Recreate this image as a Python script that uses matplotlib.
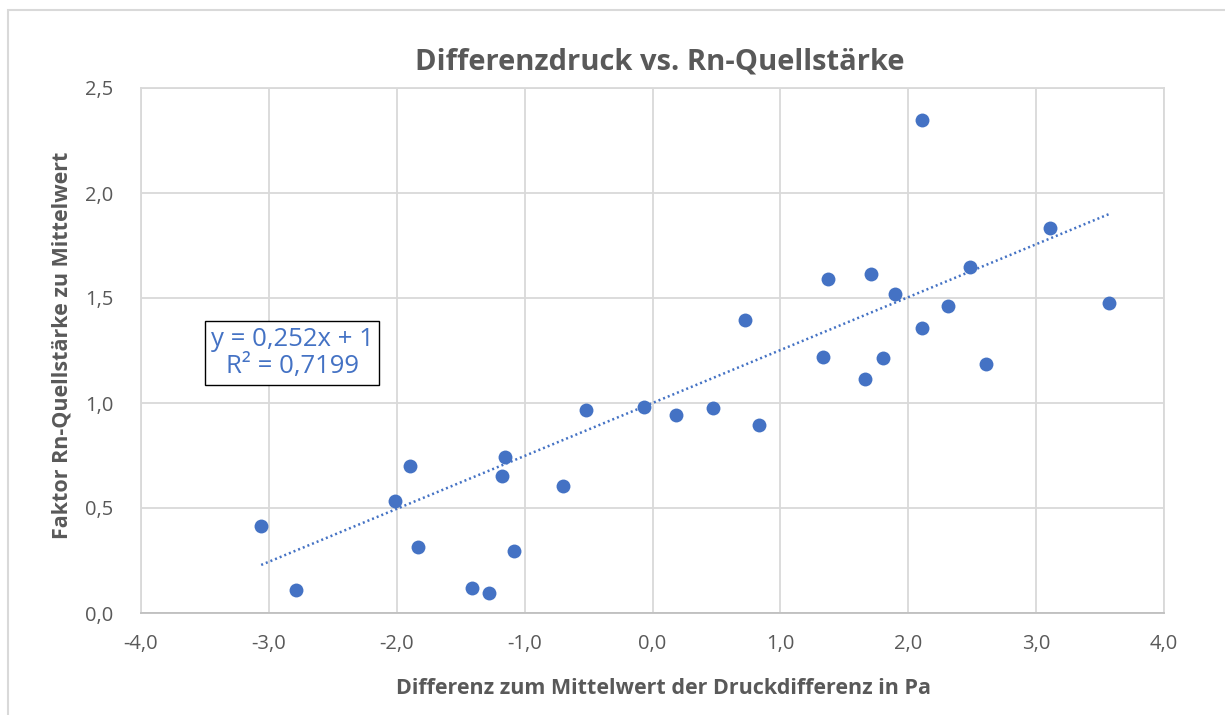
import matplotlib.pyplot as plt
import matplotlib.patches as mpatches
import numpy as np

plt.rcParams['font.family'] = ['Open Sans', 'DejaVu Sans']

# druck differenz (Pa) vs. faktor quellstaerke
dp = [-3.06, -2.79, -2.01, -1.90, -1.83, -1.41, -1.28, -1.18, -1.15, -1.08,
      -0.70, -0.52, -0.07, 0.18, 0.47, 0.72, 0.83, 1.33, 1.37, 1.66,
      1.71, 1.80, 1.90, 2.11, 2.11, 2.31, 2.48, 2.61, 3.11, 3.57]
faktor = [0.414, 0.11, 0.533, 0.70, 0.314, 0.119, 0.095, 0.652, 0.743, 0.295,
          0.605, 0.967, 0.981, 0.943, 0.976, 1.395, 0.895, 1.219, 1.59, 1.114,
          1.614, 1.214, 1.519, 2.348, 1.357, 1.462, 1.648, 1.186, 1.833, 1.476]
slope = 0.252
intercept = 1.0
r2 = "0,7199"

xticks = [-4, -3, -2, -1, 0, 1, 2, 3, 4]
yticks = [0, 0.5, 1.0, 1.5, 2.0, 2.5]

blue = '#4472C4'
grey = '#595959'
light = '#d9d9d9'

fig = plt.figure(figsize=(12.25, 7.15), dpi=100)
# chart area border (only top/left visible in the crop)
fig.patches.append(mpatches.Rectangle((8 / 1225, -0.1), 1.2, 1 - 10 / 715 + 0.1,
                                      transform=fig.transFigure, fill=False,
                                      edgecolor=light, linewidth=1.5))

ax = fig.add_axes([141 / 1225, 1 - 613 / 715, 1023 / 1225, 525 / 715])
ax.set_xlim(-4, 4)
ax.set_ylim(0, 2.5)
ax.set_xticks(xticks)
ax.set_yticks(yticks)
ax.set_xticklabels([f"{v:.1f}".replace('.', ',') for v in xticks])
ax.set_yticklabels([f"{v:.1f}".replace('.', ',') for v in yticks])
ax.tick_params(length=0, labelsize=14.5, labelcolor=grey)
ax.tick_params(axis='x', pad=15)
ax.tick_params(axis='y', pad=20)
ax.grid(True, color=light, linewidth=1.3)
ax.set_axisbelow(True)
for s in ax.spines.values():
    s.set_color(light)
    s.set_linewidth(1.3)
ax.spines['bottom'].set_color('#bfbfbf')

ax.scatter(dp, faktor, s=100, color=blue, zorder=3, linewidths=0)

xs = np.array([min(dp), max(dp)])
ax.plot(xs, slope * xs + intercept, color=blue, linewidth=1.8,
        linestyle=(0, (0.8, 1.2)), zorder=2)

fig.text(660 / 1225, 1 - 62 / 715, "Differenzdruck vs. Rn-Quellstärke",
         ha='center', va='center', fontsize=21, fontweight='bold', color=grey)
fig.text(663 / 1225, 1 - 688 / 715, "Differenz zum Mittelwert der Druckdifferenz in Pa",
         ha='center', va='center', fontsize=15.5, fontweight='bold', color=grey)
fig.text(62 / 1225, 1 - 345 / 715, "Faktor Rn-Quellstärke zu Mittelwert",
         ha='center', va='center', rotation=90, fontsize=15.5, fontweight='bold', color=grey)

fig.text(292 / 1225, 1 - 353 / 715,
         f"y = {slope:.3f}".replace('.', ',') + f"x + {intercept:g}\nR² = {r2}",
         ha='center', va='center', fontsize=18.5, color=blue, linespacing=1.15,
         bbox=dict(boxstyle='square,pad=0.22', facecolor='white', edgecolor='black', linewidth=1))

fig.savefig('out.png', dpi=100)
